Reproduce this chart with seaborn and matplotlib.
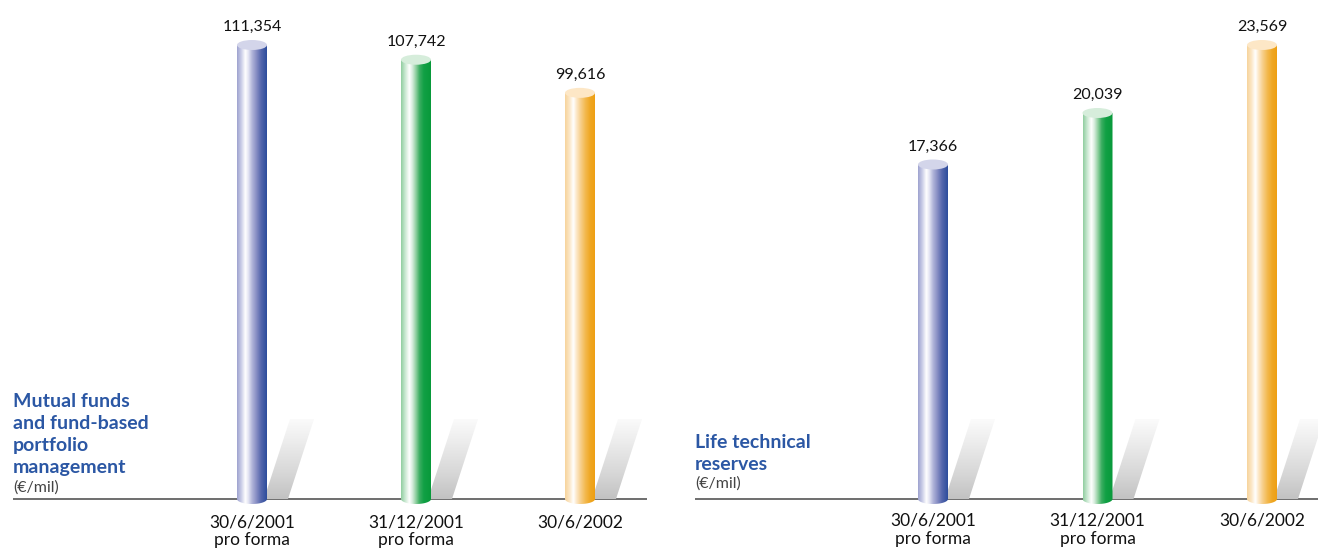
import numpy as np
import pandas as pd
import matplotlib
matplotlib.use("Agg")
import matplotlib.pyplot as plt
import seaborn as sns
from matplotlib.colors import LinearSegmentedColormap
from matplotlib.patches import Ellipse, Polygon

# ---- data -------------------------------------------------------------
periods = ["30/6/2001\npro forma", "31/12/2001\npro forma", "30/6/2002"]
mutual_funds = [111354, 107742, 99616]
life_reserves = [17366, 20039, 23569]

title_funds = "Mutual funds\nand fund-based\nportfolio\nmanagement"
title_life = "Life technical\nreserves"
unit_label = "(€/mil)"

# ---- styling ----------------------------------------------------------
sns.set_theme(style="white")
plt.rcParams["font.family"] = ["Lato", "DejaVu Sans"]

solid_colors = ["#3a57a3", "#0a9a3c", "#efa316"]
cap_colors = ["#d3d5ea", "#d6eddb", "#fde7c6"]
body_stops = [
    [(0.0, "#9da2cf"), (0.14, "#c9cce7"), (0.28, "#ffffff"), (0.38, "#e4e5f3"),
     (0.5, "#b2b6da"), (0.64, "#8a90c5"), (0.8, "#5567ad"), (1.0, "#2c4c9c")],
    [(0.0, "#90cd9f"), (0.14, "#c9e8d1"), (0.28, "#ffffff"), (0.38, "#d7eddd"),
     (0.5, "#8fcf9f"), (0.62, "#3cae62"), (0.76, "#11a045"), (1.0, "#08993a")],
    [(0.0, "#f7d49b"), (0.14, "#fbe5c2"), (0.28, "#ffffff"), (0.38, "#fde9cb"),
     (0.52, "#f7d08d"), (0.68, "#f3b94f"), (0.84, "#efa724"), (1.0, "#ee9f12")],
]
body_cmaps = [LinearSegmentedColormap.from_list(f"cyl{i}", s) for i, s in enumerate(body_stops)]
shadow_cmap = LinearSegmentedColormap.from_list(
    "shadow", [(0.0, "#c2c2c2"), (0.3, "#d6d6d6"), (0.7, "#ececec"), (1.0, "#fbfbfb")])

TITLE_BLUE = "#2b57a4"
W, H = 1318, 549
BASE_PX = 499      # baseline row
TOP_PX = 45        # centre of the top cap of the tallest cylinder

fig = plt.figure(figsize=(W / 100, H / 100), dpi=100)


def draw_panel(span_px, first_center_px, spacing_px, values, title, title_base_px, unit_base_px,
               label_base_px):
    left, right = span_px
    ax = fig.add_axes([left / W, 0, (right - left) / W, 1])
    df = pd.DataFrame({"period": periods, "value": values})
    sns.barplot(data=df, x="period", y="value", hue="period", palette=solid_colors,
                width=30 / spacing_px, saturation=1, legend=False, ax=ax)

    k = max(values) / (BASE_PX - TOP_PX)      # value units per pixel
    dx = 1 / spacing_px                        # x units per pixel
    ry = 5 * k                                 # half height of the elliptic caps

    bars = sorted(ax.patches, key=lambda p: p.get_x())
    for i, (bar, v) in enumerate(zip(bars, values)):
        bar.set_visible(False)
        x0, w, h = bar.get_x(), bar.get_width(), bar.get_height()
        x1, xc = x0 + w, x0 + w / 2

        # slanted drop shadow behind the cylinder
        shadow = Polygon([(xc + 12 * dx, 0), (xc + 36 * dx, 0),
                          (xc + 62 * dx, 80 * k), (xc + 38 * dx, 80 * k)],
                         closed=True, facecolor="none", edgecolor="none",
                         transform=ax.transData)
        ax.add_patch(shadow)
        sh = ax.imshow(np.linspace(0, 1, 128).reshape(-1, 1), cmap=shadow_cmap, origin="lower",
                       extent=[xc + 12 * dx, xc + 62 * dx, 0, 80 * k], aspect="auto",
                       interpolation="bilinear", zorder=2)
        sh.set_clip_path(shadow)

        # cylinder body with a rounded bottom
        t = np.linspace(np.pi, 2 * np.pi, 60)
        outline = [(x0, h)] + [(xc + (w / 2) * np.cos(a), ry * np.sin(a)) for a in t] + [(x1, h)]
        body = Polygon(outline, closed=True, facecolor="none", edgecolor="none",
                       transform=ax.transData)
        ax.add_patch(body)
        im = ax.imshow(np.linspace(0, 1, 256).reshape(1, -1), cmap=body_cmaps[i],
                       extent=[x0, x1, -ry, h], aspect="auto", interpolation="bilinear", zorder=3)
        im.set_clip_path(body)

        # top cap
        ax.add_patch(Ellipse((xc, h), w, 2 * ry, facecolor=cap_colors[i], edgecolor="none",
                             zorder=4))

        # value label
        ax.text(xc, h + 14 * k, f"{v:,}", ha="center", va="baseline", fontsize=11.5,
                color="#111111", zorder=5)

        # category label
        for j, line in enumerate(periods[i].split("\n")):
            ax.text(xc, (BASE_PX - label_base_px[j]) * k, line, ha="center", va="baseline",
                    fontsize=12.5, color="#111111")

    ax.axhline(0, color="#555555", lw=1.2, zorder=1)

    # panel title and unit
    for j, line in enumerate(title.split("\n")):
        ax.text(0, (BASE_PX - title_base_px[j]) * k, line, transform=ax.get_yaxis_transform(),
                ha="left", va="baseline", fontsize=14, fontweight="bold", color=TITLE_BLUE)
    ax.text(0, (BASE_PX - unit_base_px) * k, unit_label, transform=ax.get_yaxis_transform(),
            ha="left", va="baseline", fontsize=11.5, color="#444444")

    ax.set_xlim((left - first_center_px) * dx, (right - first_center_px) * dx)
    ax.set_ylim(-(H - BASE_PX) * k, BASE_PX * k)
    ax.axis("off")
    return ax


draw_panel((13, 647), 252, 164, mutual_funds, title_funds,
           [407, 429, 451, 473], 492, [528, 545])
draw_panel((695, 1318), 933, 164.5, life_reserves, title_life,
           [448, 470], 488, [526, 544])

fig.savefig("out.png", dpi=100)
